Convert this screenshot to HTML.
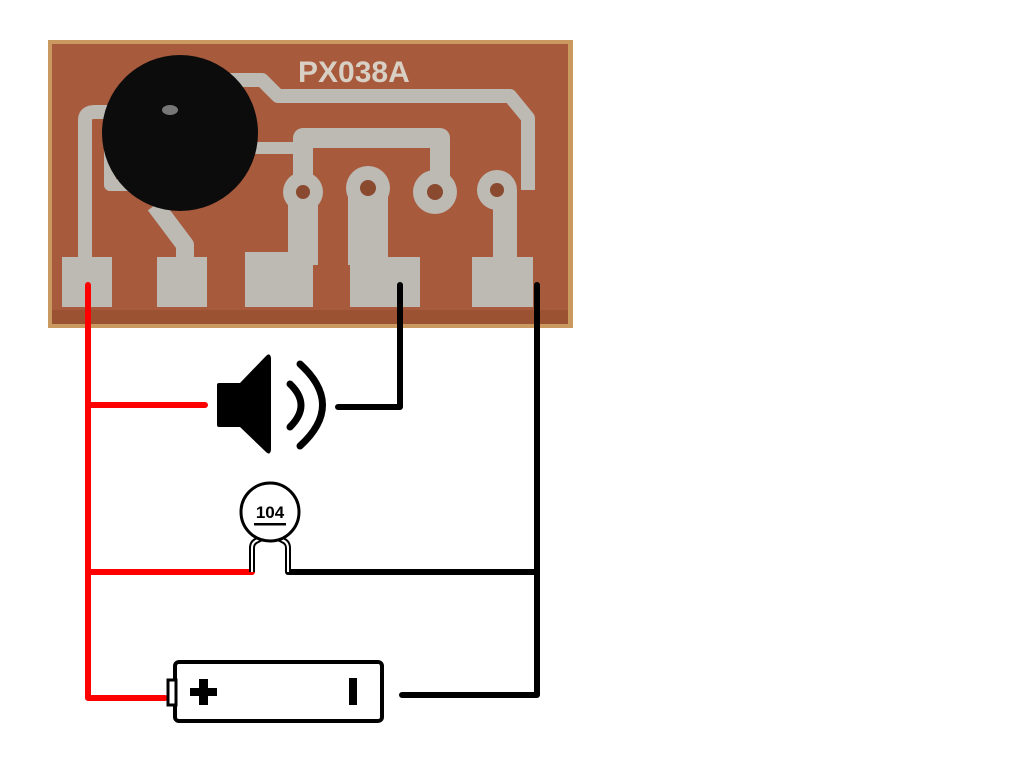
<!DOCTYPE html>
<html><head><meta charset="utf-8"><style>html,body{margin:0;padding:0;background:#fff;width:1024px;height:768px;overflow:hidden}</style></head>
<body>
<svg width="1024" height="768" viewBox="0 0 1024 768" xmlns="http://www.w3.org/2000/svg">
<rect x="48" y="40" width="525" height="288" fill="#c9995f"/>
<rect x="52" y="44" width="516" height="278" fill="#a85a3c"/>
<rect x="52" y="310" width="516" height="14" fill="#9a5233"/>
<g fill="none" stroke="#bdb9b3" stroke-linejoin="round">
<path d="M85 265 V120 Q85 112 95 112 H110" stroke-width="14"/>
<path d="M110 140 V185 H150" stroke-width="12"/>
<path d="M155 205 L185 245 V265" stroke-width="18"/>
<path d="M230 80 H262 L278 96 H510 L528 118 V190" stroke-width="14"/>
<path d="M245 148 H303" stroke-width="12"/>
<path d="M303 190 V138 H440 V190" stroke-width="20"/>
<path d="M303 190 V265" stroke-width="30"/>
<path d="M368 188 V265" stroke-width="40"/>
<path d="M505 190 V265" stroke-width="24"/>
</g>
<g fill="#bdb9b3">
<rect x="62" y="257" width="50" height="50"/>
<rect x="157" y="257" width="50" height="50"/>
<rect x="245" y="252" width="68" height="55"/>
<rect x="350" y="257" width="70" height="50"/>
<rect x="472" y="257" width="61" height="50"/>
<circle cx="303" cy="192" r="20"/><circle cx="368" cy="188" r="22"/>
<circle cx="435" cy="192" r="22"/><circle cx="497" cy="190" r="20"/>
</g>
<g fill="#8a4a30"><circle cx="303" cy="192" r="7"/><circle cx="368" cy="188" r="8"/><circle cx="435" cy="192" r="8"/><circle cx="497" cy="190" r="7"/></g>
<text x="298" y="82" font-family="Liberation Sans, sans-serif" font-weight="bold" font-size="30" fill="#d8cfc5">PX038A</text>
<circle cx="180" cy="133" r="78" fill="#0c0c0c"/>
<ellipse cx="170" cy="110" rx="8" ry="5" fill="#777"/>
<g fill="none" stroke-width="6" stroke-linecap="round" stroke-linejoin="round">
<path d="M88 285 V698 H165" stroke="#f00"/>
<path d="M88 405 H205" stroke="#f00"/>
<path d="M88 572 H252" stroke="#f00"/>
<path d="M338 407 H400 V285" stroke="#000"/>
<path d="M537 285 V695 H402" stroke="#000"/>
<path d="M288 572 H537" stroke="#000"/>
</g>
<path d="M217 385 Q217 383 219 383 H240 L266 356 Q270 352 271 358 V450 Q270 456 266 452 L240 427 H219 Q217 427 217 425 Z" fill="#000"/>
<path d="M290 384 Q312 405 290 427" fill="none" stroke="#000" stroke-width="7" stroke-linecap="round"/>
<path d="M300 364 Q345 405 300 446" fill="none" stroke="#000" stroke-width="7" stroke-linecap="round"/>
<path d="M252 572 V548 Q252 542 258 540 L262 538 M288 572 V548 Q288 542 282 540 L278 538" fill="none" stroke="#000" stroke-width="6"/>
<path d="M252 572 V548 Q252 542 258 540 L262 538 M288 572 V548 Q288 542 282 540 L278 538" fill="none" stroke="#fff" stroke-width="2"/>
<circle cx="270" cy="512" r="29" fill="#fff" stroke="#000" stroke-width="3"/>
<text x="270" y="518" text-anchor="middle" font-family="Liberation Sans, sans-serif" font-weight="bold" font-size="17">104</text>
<rect x="254" y="523" width="32" height="2.5" fill="#000"/>
<rect x="175" y="662" width="207" height="59" rx="4" fill="#fff" stroke="#000" stroke-width="4"/>
<rect x="168" y="680" width="8" height="25" fill="#fff" stroke="#000" stroke-width="3"/>
<rect x="190" y="688" width="27" height="8" fill="#000"/>
<rect x="199" y="679" width="9" height="26" fill="#000"/>
<rect x="349" y="678" width="8" height="27" fill="#000"/>
</svg>
</body></html>
